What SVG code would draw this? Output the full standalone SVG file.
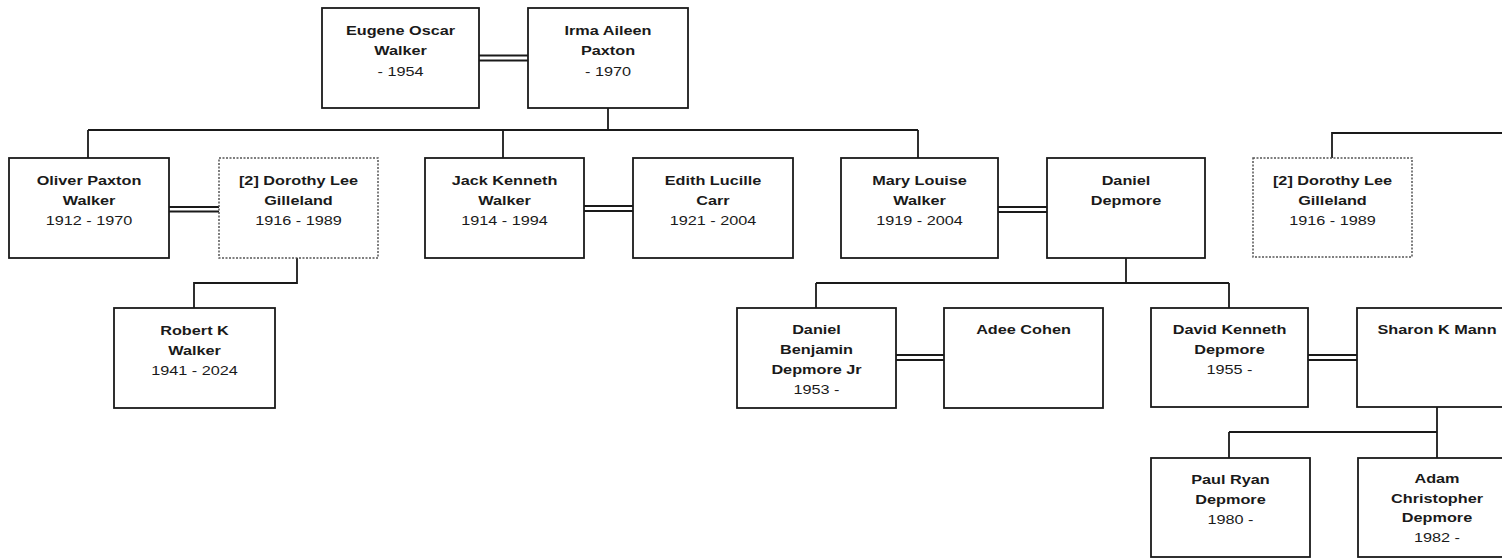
<svg xmlns="http://www.w3.org/2000/svg" width="1502" height="559" viewBox="0 0 1502 559">
<style>
.box{fill:#fff;stroke:#1a1a1a;stroke-width:1.8}
.dot{fill:#fff;stroke:#555;stroke-width:1.5;stroke-dasharray:2 1.5}
.ln{fill:none;stroke:#1a1a1a;stroke-width:1.8}
text{font-family:"Liberation Sans",Arial,sans-serif;font-size:13px;fill:#1a1a1a;text-anchor:middle}
.n{font-weight:bold}
</style>
<rect width="1502" height="559" fill="#fff"/>
<g id="connectors">
  <path class="ln" d="M479,55.5H528M479,60.5H528"/>
  <path class="ln" d="M608,108V130M88,130H918M88,130V158M503,130V158M918,130V158"/>
  <path class="ln" d="M169,207H219M169,211.5H219"/>
  <path class="ln" d="M584,206H633M584,211H633"/>
  <path class="ln" d="M998,207H1047M998,212H1047"/>
  <path class="ln" d="M1502,133H1332V158"/>
  <path class="ln" d="M297,258V283H194V308"/>
  <path class="ln" d="M1126,258V283M816,283H1229M816,283V308M1229,283V308"/>
  <path class="ln" d="M896,355H944M896,360H944"/>
  <path class="ln" d="M1308,355H1357M1308,360H1357"/>
  <path class="ln" d="M1437,407V432M1229,432H1437M1229,432V458M1437,432V458"/>
</g>
<g id="eugene"><rect class="box" x="322" y="8" width="157" height="100"/>
<g transform="translate(400.5,0) scale(1.25,1)"><text x="0" y="35" class="n">Eugene Oscar</text><text x="0" y="55" class="n">Walker</text><text x="0" y="76">- 1954</text></g></g>
<g id="irma"><rect class="box" x="528" y="8" width="160" height="100"/>
<g transform="translate(608,0) scale(1.25,1)"><text x="0" y="35" class="n">Irma Aileen</text><text x="0" y="55" class="n">Paxton</text><text x="0" y="76">- 1970</text></g></g>
<g id="oliver"><rect class="box" x="9" y="158" width="160" height="100"/>
<g transform="translate(89,0) scale(1.25,1)"><text x="0" y="185" class="n">Oliver Paxton</text><text x="0" y="205" class="n">Walker</text><text x="0" y="225">1912 - 1970</text></g></g>
<g id="dorothy1"><rect class="dot" x="219" y="158" width="159" height="100"/>
<g transform="translate(298.5,0) scale(1.25,1)"><text x="0" y="185" class="n">[2] Dorothy Lee</text><text x="0" y="205" class="n">Gilleland</text><text x="0" y="225">1916 - 1989</text></g></g>
<g id="jack"><rect class="box" x="425" y="158" width="159" height="100"/>
<g transform="translate(504.5,0) scale(1.25,1)"><text x="0" y="185" class="n">Jack Kenneth</text><text x="0" y="205" class="n">Walker</text><text x="0" y="225">1914 - 1994</text></g></g>
<g id="edith"><rect class="box" x="633" y="158" width="160" height="100"/>
<g transform="translate(713,0) scale(1.25,1)"><text x="0" y="185" class="n">Edith Lucille</text><text x="0" y="205" class="n">Carr</text><text x="0" y="225">1921 - 2004</text></g></g>
<g id="mary"><rect class="box" x="841" y="158" width="157" height="100"/>
<g transform="translate(919.5,0) scale(1.25,1)"><text x="0" y="185" class="n">Mary Louise</text><text x="0" y="205" class="n">Walker</text><text x="0" y="225">1919 - 2004</text></g></g>
<g id="daniel"><rect class="box" x="1047" y="158" width="158" height="100"/>
<g transform="translate(1126,0) scale(1.25,1)"><text x="0" y="185" class="n">Daniel</text><text x="0" y="205" class="n">Depmore</text></g></g>
<g id="dorothy2"><rect class="dot" x="1253" y="158" width="159" height="99"/>
<g transform="translate(1332.5,0) scale(1.25,1)"><text x="0" y="185" class="n">[2] Dorothy Lee</text><text x="0" y="205" class="n">Gilleland</text><text x="0" y="225">1916 - 1989</text></g></g>
<g id="robert"><rect class="box" x="114" y="308" width="161" height="100"/>
<g transform="translate(194.5,0) scale(1.25,1)"><text x="0" y="335" class="n">Robert K</text><text x="0" y="355" class="n">Walker</text><text x="0" y="375">1941 - 2024</text></g></g>
<g id="danieljr"><rect class="box" x="737" y="308" width="159" height="100"/>
<g transform="translate(816.5,0) scale(1.25,1)"><text x="0" y="334" class="n">Daniel</text><text x="0" y="354" class="n">Benjamin</text><text x="0" y="374" class="n">Depmore Jr</text><text x="0" y="394">1953 -</text></g></g>
<g id="adee"><rect class="box" x="944" y="308" width="159" height="100"/>
<g transform="translate(1023.5,0) scale(1.25,1)"><text x="0" y="334" class="n">Adee Cohen</text></g></g>
<g id="david"><rect class="box" x="1151" y="308" width="157" height="99"/>
<g transform="translate(1229.5,0) scale(1.25,1)"><text x="0" y="334" class="n">David Kenneth</text><text x="0" y="354" class="n">Depmore</text><text x="0" y="374">1955 -</text></g></g>
<g id="sharon"><rect class="box" x="1357" y="308" width="160" height="99"/>
<g transform="translate(1437,0) scale(1.25,1)"><text x="0" y="334" class="n">Sharon K Mann</text></g></g>
<g id="paul"><rect class="box" x="1151" y="458" width="159" height="99"/>
<g transform="translate(1230.5,0) scale(1.25,1)"><text x="0" y="484" class="n">Paul Ryan</text><text x="0" y="504" class="n">Depmore</text><text x="0" y="524">1980 -</text></g></g>
<g id="adam"><rect class="box" x="1358" y="458" width="160" height="99"/>
<g transform="translate(1437,0) scale(1.25,1)"><text x="0" y="483.5" class="n">Adam</text><text x="0" y="503" class="n">Christopher</text><text x="0" y="522.5" class="n">Depmore</text><text x="0" y="542">1982 -</text></g></g>
</svg>
